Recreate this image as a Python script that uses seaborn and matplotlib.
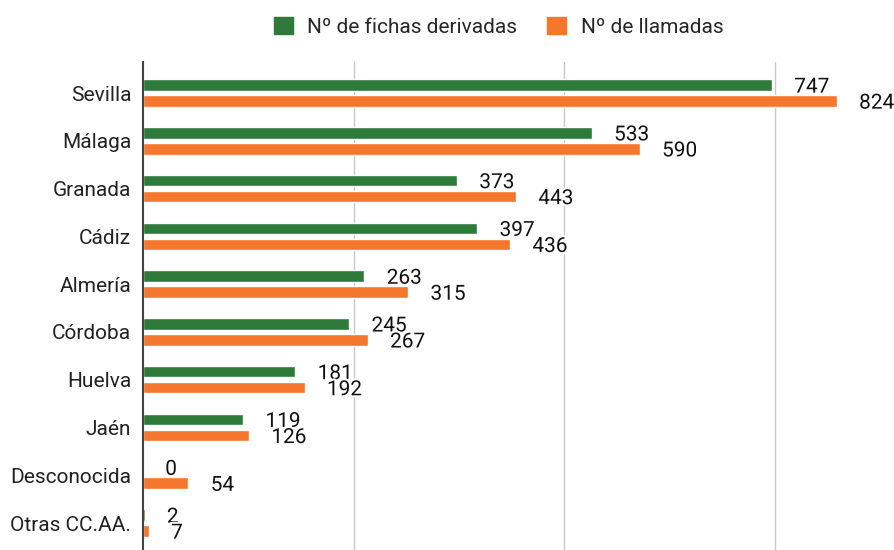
import matplotlib.pyplot as plt
import matplotlib.patheffects as pe
from matplotlib.patches import Patch
import seaborn as sns
import pandas as pd

provincias = ["Sevilla", "Málaga", "Granada", "Cádiz", "Almería", "Córdoba",
              "Huelva", "Jaén", "Desconocida", "Otras CC.AA."]
fichas = [747, 533, 373, 397, 263, 245, 181, 119, 0, 2]
llamadas = [824, 590, 443, 436, 315, 267, 192, 126, 54, 7]
series = ["Nº de fichas derivadas", "Nº de llamadas"]
colores = ["#2f7a3b", "#f4772d"]

df = pd.DataFrame({
    "provincia": provincias * 2,
    "valor": fichas + llamadas,
    "serie": [series[0]] * len(provincias) + [series[1]] * len(provincias),
})

sns.set_theme(style="white", font="Roboto")
plt.rcParams["font.family"] = ["Roboto", "DejaVu Sans"]

fig = plt.figure(figsize=(8.95, 5.5), dpi=100)
ax = fig.add_axes([143 / 895, 0, 1 - 143 / 895, 488 / 550])

sns.barplot(data=df, x="valor", y="provincia", hue="serie", orient="h",
            palette=colores, saturation=1, width=0.67, gap=0.28,
            legend=False, ax=ax)

ax.set_xlim(0, 893)
ax.set_ylim(9.565, -0.65)
ax.set_xticks([250, 500, 750])
ax.set_xticklabels([])
ax.xaxis.grid(True, color="#c8c8c8", linewidth=1)
ax.set_axisbelow(True)
ax.tick_params(axis="both", length=0)
ax.tick_params(axis="y", pad=8.5, labelsize=15, labelcolor="#222222")
ax.set_xlabel("")
ax.set_ylabel("")
for s in ["top", "right", "bottom"]:
    ax.spines[s].set_visible(False)
ax.spines["left"].set_color("#444444")
ax.spines["left"].set_linewidth(1.5)
ax.spines["left"].set_zorder(5)

# etiquetas de valor, un poco a la derecha y abajo del final de la barra
for cont in ax.containers:
    anns = ax.bar_label(cont, padding=16, fontsize=15, color="#111111",
                        path_effects=[pe.withStroke(linewidth=3, foreground="white")])
    for a in anns:
        a.xyann = (16, -1.5)

handles = [Patch(facecolor=c, edgecolor=c) for c in colores]
fig.legend(handles, series, loc="center", bbox_to_anchor=(0.557, 0.951),
           ncol=2, frameon=False, fontsize=15, handlelength=0.9,
           handleheight=0.9, handletextpad=0.7, columnspacing=1.45)

fig.savefig("out.png", dpi=100)
